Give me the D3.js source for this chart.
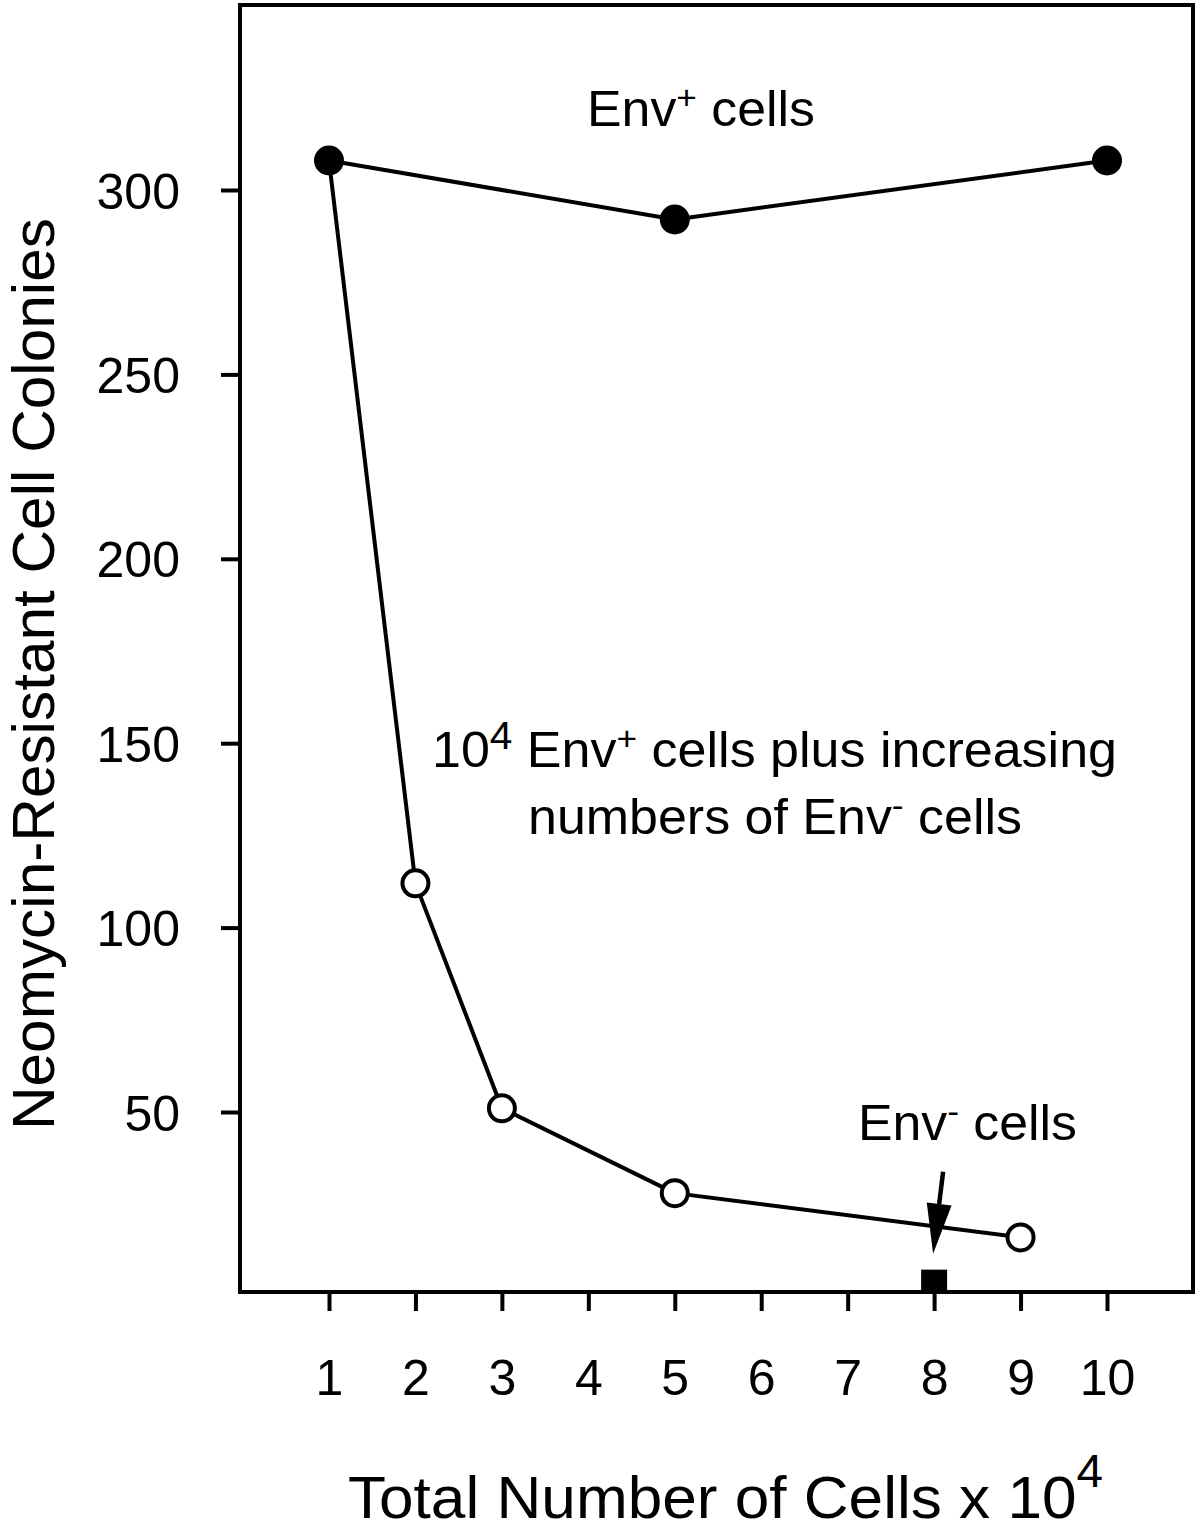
<!DOCTYPE html>
<html>
<head>
<meta charset="utf-8">
<script src="https://cdn.jsdelivr.net/npm/d3@7"></script>
<style>
  html, body { margin: 0; padding: 0; background: #fff; }
  svg { display: block; }
  text { font-family: "Liberation Sans", Arial, Helvetica, sans-serif; fill: #000; }
</style>
</head>
<body>
<svg id="chart" width="1200" height="1530"></svg>
<script>
// ---- data ----
const xTicks = [1, 2, 3, 4, 5, 6, 7, 8, 9, 10];
const yTicks = [50, 100, 150, 200, 250, 300];
const envPlusX = [1, 5, 10];
const envPlusY = [308, 292, 308];
const mixedX = [1, 2, 3, 5, 9];
const mixedY = [308, 112, 51, 28, 16];
const envMinusX = [8];
const envMinusY = [4];

const svg = d3.select("#chart");

const x = d3.scaleLinear().domain([1, 10]).range([329, 1107]);
const y = d3.scaleLinear().domain([0, 350]).range([1296.4, 5.6]);

const box = { left: 240, right: 1193, top: 5, bottom: 1292 };
const SW = 4;

// frame
svg.append("rect")
  .attr("x", box.left).attr("y", box.top)
  .attr("width", box.right - box.left).attr("height", box.bottom - box.top)
  .attr("fill", "none").attr("stroke", "#000").attr("stroke-width", SW);

// y axis
const yAxis = d3.axisLeft(y).tickValues(yTicks).tickSize(19).tickPadding(0).tickFormat(d3.format("d"));
const gy = svg.append("g").attr("transform", `translate(${box.left},0)`).call(yAxis);
gy.select(".domain").remove();
gy.selectAll(".tick line").attr("stroke", "#000").attr("stroke-width", SW);
gy.selectAll(".tick text")
  .attr("x", -60).attr("dy", "0.36em")
  .attr("font-size", 50).attr("font-family", null).attr("fill", "#000");

// x axis
const xAxis = d3.axisBottom(x).tickValues(xTicks).tickSize(19).tickPadding(0).tickFormat(d3.format("d"));
const gx = svg.append("g").attr("transform", `translate(0,${box.bottom})`).call(xAxis);
gx.select(".domain").remove();
gx.selectAll(".tick line").attr("stroke", "#000").attr("stroke-width", SW);
gx.selectAll(".tick text")
  .attr("y", 103).attr("dy", 0)
  .attr("font-size", 50).attr("font-family", null).attr("fill", "#000");

// axis titles
const xt = svg.append("text").attr("x", 348).attr("y", 1518).attr("font-size", 60)
  .attr("textLength", 755).attr("lengthAdjust", "spacingAndGlyphs");
xt.append("tspan").text("Total Number of Cells x 10");
xt.append("tspan").attr("font-size", 46).attr("dy", -31).text("4");

svg.append("text")
  .attr("transform", "translate(54,674) rotate(-90)")
  .attr("text-anchor", "middle")
  .attr("font-size", 59)
  .attr("textLength", 912).attr("lengthAdjust", "spacingAndGlyphs")
  .text("Neomycin-Resistant Cell Colonies");

// lines
const line = d3.line().x(d => x(d[0])).y(d => y(d[1]));
const mixed = mixedX.map((v, i) => [v, mixedY[i]]);
const envPlus = envPlusX.map((v, i) => [v, envPlusY[i]]);

svg.append("path").datum(mixed).attr("d", line)
  .attr("fill", "none").attr("stroke", "#000").attr("stroke-width", SW).attr("stroke-linejoin", "round");
svg.append("path").datum(envPlus).attr("d", line)
  .attr("fill", "none").attr("stroke", "#000").attr("stroke-width", SW).attr("stroke-linejoin", "round");

// open circles (first point is covered by the filled marker)
svg.selectAll("circle.open").data(mixed.slice(1)).join("circle")
  .attr("class", "open")
  .attr("cx", d => x(d[0])).attr("cy", d => y(d[1])).attr("r", 13)
  .attr("fill", "#fff").attr("stroke", "#000").attr("stroke-width", SW);

svg.selectAll("circle.filled").data(envPlus).join("circle")
  .attr("class", "filled")
  .attr("cx", d => x(d[0])).attr("cy", d => y(d[1])).attr("r", 15)
  .attr("fill", "#000");

// Env- square
const sq = envMinusX.map((v, i) => [v, envMinusY[i]]);
svg.selectAll("rect.sq").data(sq).join("rect")
  .attr("class", "sq")
  .attr("x", d => x(d[0]) - 13).attr("y", d => y(d[1]) - 12)
  .attr("width", 26).attr("height", 24).attr("fill", "#000");

// arrow pointing to Env- square
sq.forEach(d => {
  const tipX = x(d[0]) - 1, tipY = y(d[1]) - 28;
  const startX = tipX + 10, startY = tipY - 82;
  const len = Math.hypot(startX - tipX, startY - tipY);
  const ux = (startX - tipX) / len, uy = (startY - tipY) / len;
  const hl = 50, hw = 12.5;
  const bx = tipX + ux * hl, by = tipY + uy * hl;
  svg.append("line")
    .attr("x1", startX).attr("y1", startY).attr("x2", bx).attr("y2", by)
    .attr("stroke", "#000").attr("stroke-width", 4.5);
  svg.append("path")
    .attr("d", `M${tipX},${tipY} L${bx - uy * hw},${by + ux * hw} L${bx + uy * hw},${by - ux * hw} Z`)
    .attr("fill", "#000");
});

// annotations
function label(xp, yp, parts, size, len) {
  const t = svg.append("text").attr("x", xp).attr("y", yp).attr("font-size", size);
  if (len) t.attr("textLength", len).attr("lengthAdjust", "spacingAndGlyphs");
  parts.forEach(p => {
    if (typeof p === "string") t.append("tspan").text(p);
    else t.append("tspan").attr("font-size", p.size).attr("dy", p.dy).text(p.t);
  });
  return t;
}

const FS = 50;
label(587, 126, ["Env", {t: "+", size: 34, dy: -17}, {t: " cells", size: FS, dy: 17}], FS, 228);
label(432, 767, ["10", {t: "4", size: 39, dy: -18}, {t: " Env", size: FS, dy: 18}, {t: "+", size: 34, dy: -17}, {t: " cells plus increasing", size: FS, dy: 17}], FS, 685);
label(528, 834, ["numbers of Env", {t: "-", size: 34, dy: -17}, {t: " cells", size: FS, dy: 17}], FS, 494);
label(858, 1140, ["Env", {t: "-", size: 34, dy: -17}, {t: " cells", size: FS, dy: 17}], FS, 219);
</script>
</body>
</html>
